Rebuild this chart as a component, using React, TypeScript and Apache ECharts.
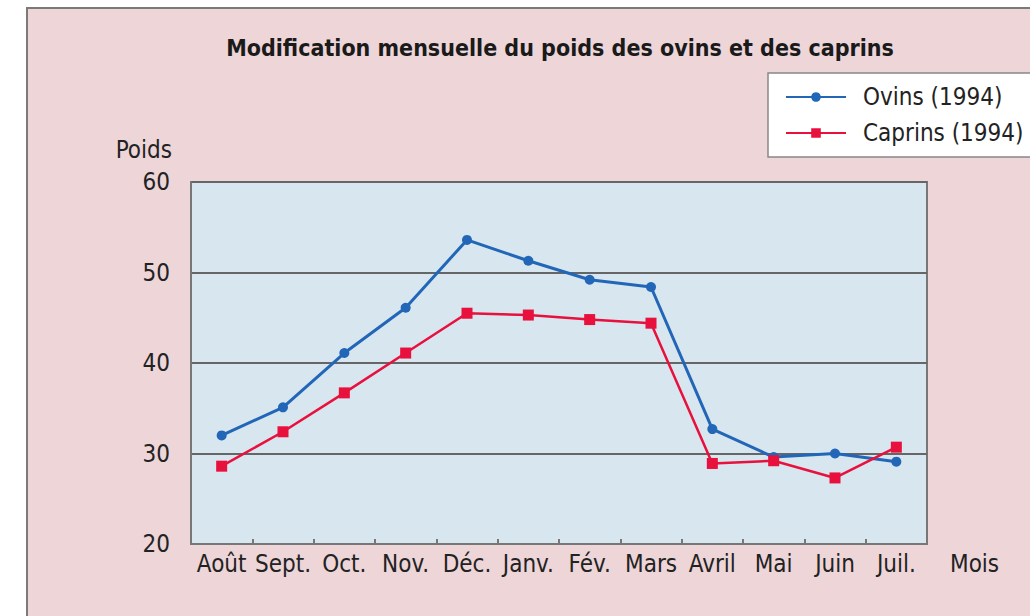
import React, { useEffect, useRef } from "react";
import * as echarts from "echarts";

const months = ["Août", "Sept.", "Oct.", "Nov.", "Déc.", "Janv.", "Fév.", "Mars", "Avril", "Mai", "Juin", "Juil."];
const ovins = [32.0, 35.1, 41.1, 46.1, 53.6, 51.3, 49.2, 48.4, 32.7, 29.6, 30.0, 29.1];
const caprins = [28.6, 32.4, 36.7, 41.1, 45.5, 45.3, 44.8, 44.4, 28.9, 29.2, 27.3, 30.7];
const yTicks = { min: 20, max: 60, interval: 10 };

const FONT = "'Liberation Sans Narrow', 'DejaVu Sans Condensed', 'Liberation Sans', sans-serif";

export default function App() {
  const ref = useRef<HTMLDivElement>(null);
  useEffect(() => {
    const chart = echarts.init(ref.current!, null, { renderer: "svg" });
    chart.setOption({
      animation: false,
      backgroundColor: "#ffffff",
      textStyle: { fontFamily: FONT },
      graphic: [
        {
          type: "rect",
          z: -10,
          silent: true,
          shape: { x: 27, y: 8, width: 1020, height: 620 },
          style: { fill: "#edd5d8", stroke: "#7a7a7a", lineWidth: 2 },
        },
      ],
      title: {
        text: "Modification mensuelle du poids des ovins et des caprins",
        left: 555,
        top: 31,
        textAlign: "center",
        textStyle: { fontFamily: FONT, fontWeight: "bold", fontSize: 23, color: "#1a1a1a" },
      },
      legend: {
        left: 768,
        top: 73,
        orient: "vertical",
        backgroundColor: "#ffffff",
        borderColor: "#888888",
        borderWidth: 1.5,
        borderRadius: 0,
        padding: [12, 50, 12, 17],
        itemGap: 12,
        itemWidth: 60,
        itemHeight: 12,
        textStyle: { fontFamily: FONT, fontSize: 24, color: "#222", padding: [0, 0, 0, 12] },
      },
      grid: {
        left: 191,
        top: 182,
        right: 103,
        bottom: 72,
        show: true,
        backgroundColor: "#d8e6ef",
        borderColor: "#777777",
        borderWidth: 2,
      },
      xAxis: {
        type: "category",
        data: months,
        boundaryGap: true,
        name: "Mois",
        nameLocation: "end",
        nameGap: 23,
        nameTextStyle: { fontFamily: FONT, fontSize: 24, color: "#222", verticalAlign: "top", padding: [8, 0, 0, 0] },
        axisLine: { show: true, lineStyle: { color: "#777777", width: 2 } },
        axisTick: { show: true, inside: true, length: 5, interval: 0, lineStyle: { color: "#777777", width: 2 } },
        axisLabel: { interval: 0, margin: 8, fontFamily: FONT, fontSize: 24, color: "#222" },
        splitLine: { show: false },
      },
      yAxis: {
        type: "value",
        min: yTicks.min,
        max: yTicks.max,
        interval: yTicks.interval,
        name: "Poids",
        nameLocation: "end",
        nameGap: 20,
        nameTextStyle: { fontFamily: FONT, fontSize: 24, color: "#222", align: "right", padding: [0, 19, 0, 0] },
        axisLine: { show: true, lineStyle: { color: "#777777", width: 2 } },
        axisTick: { show: false },
        axisLabel: { margin: 21, fontFamily: FONT, fontSize: 24, color: "#222" },
        splitLine: { show: true, lineStyle: { color: "#666666", width: 2 } },
      },
      series: [
        {
          name: "Ovins (1994)",
          type: "line",
          data: ovins,
          symbol: "circle",
          symbolSize: 10,
          lineStyle: { color: "#2266b8", width: 3 },
          itemStyle: { color: "#2266b8" },
        },
        {
          name: "Caprins (1994)",
          type: "line",
          data: caprins,
          symbol: "rect",
          symbolSize: 11,
          lineStyle: { color: "#e8103c", width: 2.5 },
          itemStyle: { color: "#e8103c" },
        },
      ],
    });
    return () => chart.dispose();
  }, []);
  return <div ref={ref} style={{ position: "fixed", left: 0, top: 0, width: 1030, height: 616 }} />;
}
